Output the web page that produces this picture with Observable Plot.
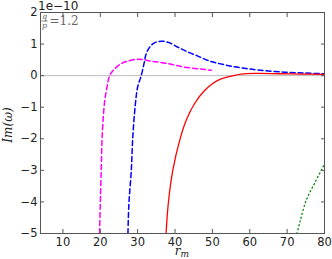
<!DOCTYPE html>
<html><head><meta charset="utf-8">
<script src="https://cdn.jsdelivr.net/npm/d3@7"></script>
<script src="https://cdn.jsdelivr.net/npm/@observablehq/plot@0.6"></script>
<style>
body{margin:0;background:#fff;}
#chart{position:relative;width:332px;height:259px;}
</style></head>
<body><div id="chart"></div>
<script>
const magentaX = [19.8, 20.0, 20.25, 20.5, 21.1, 21.8, 22.5, 23.8, 25.6, 27.4, 30.1, 33.6, 38.1, 42.5, 47.0, 49.7];
const magentaY = [-5, -4.05, -3.0, -1.94, -0.89, -0.36, 0, 0.21, 0.38, 0.46, 0.52, 0.46, 0.38, 0.27, 0.21, 0.17];
const blueX = [27.4, 27.66, 28.3, 28.7, 29.4, 30.0, 30.95, 31.7, 32.3, 33.2, 34.5, 36.3, 38.1, 40.8, 43.4, 46.1, 48.8, 51.9, 55, 58.2, 62, 69.2, 75, 80];
const blueY = [-5, -4.05, -3.0, -1.94, -0.89, -0.36, 0, 0.38, 0.7, 0.9, 1.04, 1.09, 1.06, 0.9, 0.75, 0.62, 0.48, 0.38, 0.3, 0.24, 0.18, 0.11, 0.08, 0.06];
const redX = [37.6, 38.2, 39.4, 41.5, 43.0, 45.2, 47.9, 50.1, 52.0, 54.2, 57.7, 62, 68, 74, 80];
const redY = [-5, -4.05, -3.0, -1.94, -1.41, -0.89, -0.47, -0.25, -0.12, -0.04, 0.05, 0.07, 0.06, 0.05, 0.04];
const greenX = [72.6, 73.5, 75.1, 77.3, 79.6, 80];
const greenY = [-5, -4.6, -3.95, -3.42, -2.89, -2.8];
const xTicks = [10, 20, 30, 40, 50, 60, 70, 80];
const yTicks = [-5, -4, -3, -2, -1, 0, 1, 2];

const pts = (xs, ys) => xs.map((x, i) => ({x, y: ys[i]}));
const magenta = pts(magentaX, magentaY);
const blue = pts(blueX, blueY);
const red = pts(redX, redY);
const green = pts(greenX, greenY);

const frameColor = "#555";
const plot = Plot.plot({
  width: 332, height: 259,
  marginLeft: 40, marginRight: 8, marginTop: 12, marginBottom: 26,
  style: {fontFamily: "DejaVu Sans", fontSize: "11.5px", color: "#222", background: "#fff"},
  x: {domain: [4, 80], ticks: xTicks},
  y: {domain: [-5, 2], ticks: yTicks},
  marks: [
    Plot.ruleY([0], {stroke: "#bbb", strokeWidth: 1}),
    Plot.line(magenta, {x: "x", y: "y", stroke: "#ff00ff", strokeWidth: 1.5, strokeDasharray: "5,3", curve: "catmull-rom", clip: true}),
    Plot.line(blue, {x: "x", y: "y", stroke: "#0000ff", strokeWidth: 1.5, strokeDasharray: "5,3", curve: "catmull-rom", clip: true}),
    Plot.line(red, {x: "x", y: "y", stroke: "#ff0000", strokeWidth: 1.3, curve: "catmull-rom", clip: true}),
    Plot.line(green, {x: "x", y: "y", stroke: "#008000", strokeWidth: 1.3, strokeDasharray: "1,3", curve: "catmull-rom", clip: true}),
    Plot.axisX(xTicks, {anchor: "bottom", tickSize: -4, tickPadding: 8, stroke: frameColor, label: null}),
    Plot.axisX(xTicks, {anchor: "top", tickSize: -4, tickFormat: () => "", stroke: frameColor, label: null}),
    Plot.axisY(yTicks, {anchor: "left", tickSize: -4, tickPadding: 7, stroke: frameColor, label: null}),
    Plot.axisY(yTicks, {anchor: "right", tickSize: -4, tickFormat: () => "", stroke: frameColor, label: null}),
    Plot.frame({stroke: frameColor, strokeWidth: 1})
  ]
});
const svg = d3.select(plot);
const addText = (x, y, txt, style) => svg.append("text").attr("x", x).attr("y", y).attr("style", style).text(txt);
// axis labels and annotations
svg.append("text").attr("x", 182).attr("y", 255)
  .attr("style", "font-family:'DejaVu Serif';font-style:italic;font-size:12px;fill:#222;text-anchor:middle")
  .html('r<tspan style="font-size:9px" dy="2">m</tspan>');
svg.append("text").attr("transform", "translate(12,125) rotate(-90)")
  .attr("style", "font-family:'DejaVu Serif';font-style:italic;font-size:12px;fill:#222;text-anchor:middle")
  .text("Im(ω)");
addText(38, 9.5, "1e−10", "font-family:'DejaVu Sans';font-size:12px;fill:#222;text-anchor:start");
addText(44.5, 19, "q", "font-family:'DejaVu Serif';font-style:italic;font-size:8px;fill:#666;text-anchor:middle");
svg.append("line").attr("x1", 41.5).attr("x2", 47.5).attr("y1", 21).attr("y2", 21).attr("stroke", "#666").attr("stroke-width", 0.8);
addText(44.5, 27.5, "p", "font-family:'DejaVu Serif';font-style:italic;font-size:8px;fill:#666;text-anchor:middle");
addText(49.5, 25, "=1.2", "font-family:'DejaVu Serif';font-size:12px;fill:#666;text-anchor:start");
document.getElementById("chart").appendChild(plot);
</script></body></html>
